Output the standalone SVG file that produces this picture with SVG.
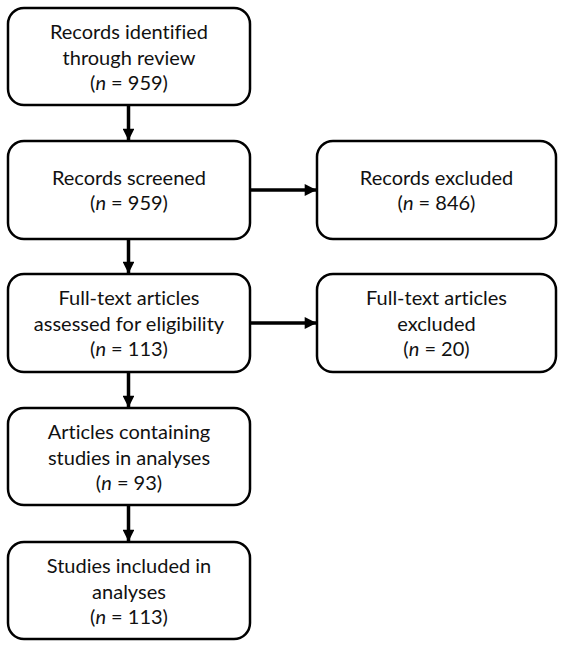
<svg xmlns="http://www.w3.org/2000/svg" width="566" height="647" viewBox="0 0 566 647">
<style>
.box{fill:#fff;stroke:#000;stroke-width:2.5}
.t{font-family:Lato,"Liberation Sans",sans-serif;font-size:20px;fill:#111;text-anchor:middle;font-variant-ligatures:none;font-feature-settings:"liga" 0}
.c{stroke:#000;stroke-width:3.5;fill:none}
</style>
<defs>
<marker id="ah" viewBox="0 0 10 10" refX="9.5" refY="5" markerWidth="3.6" markerHeight="3.4" orient="auto" markerUnits="strokeWidth">
<path d="M0,0 L10,5 L0,10 Z" fill="#000"/>
</marker>
</defs>
<rect width="566" height="647" fill="#fff"/>
<g id="connectors">
<line class="c" x1="128.5" y1="106" x2="128.5" y2="140" marker-end="url(#ah)"/>
<line class="c" x1="128.5" y1="240" x2="128.5" y2="273" marker-end="url(#ah)"/>
<line class="c" x1="128.5" y1="373" x2="128.5" y2="407" marker-end="url(#ah)"/>
<line class="c" x1="128.5" y1="506" x2="128.5" y2="541" marker-end="url(#ah)"/>
<line class="c" x1="251" y1="190" x2="316" y2="190" marker-end="url(#ah)"/>
<line class="c" x1="251" y1="323" x2="316" y2="323" marker-end="url(#ah)"/>
</g>
<g id="n1">
<rect class="box" x="8" y="8" width="242" height="97" rx="16"/>
<text class="t" x="129" y="39">Records identified</text>
<text class="t" x="129" y="65">through review</text>
<text class="t" x="129" y="90">(<tspan font-style="italic">n</tspan> = 959)</text>
</g>
<g id="n2">
<rect class="box" x="8" y="141" width="242" height="98" rx="16"/>
<text class="t" x="129" y="185">Records screened</text>
<text class="t" x="129" y="210">(<tspan font-style="italic">n</tspan> = 959)</text>
</g>
<g id="n3">
<rect class="box" x="317" y="141" width="239" height="98" rx="16"/>
<text class="t" x="436.5" y="185">Records excluded</text>
<text class="t" x="436.5" y="210">(<tspan font-style="italic">n</tspan> = 846)</text>
</g>
<g id="n4">
<rect class="box" x="8" y="274" width="242" height="98" rx="16"/>
<text class="t" x="129" y="305">Full-text articles</text>
<text class="t" x="129" y="331">assessed for eligibility</text>
<text class="t" x="129" y="356">(<tspan font-style="italic">n</tspan> = 113)</text>
</g>
<g id="n5">
<rect class="box" x="317" y="274" width="239" height="98" rx="16"/>
<text class="t" x="436.5" y="305">Full-text articles</text>
<text class="t" x="436.5" y="331">excluded</text>
<text class="t" x="436.5" y="356">(<tspan font-style="italic">n</tspan> = 20)</text>
</g>
<g id="n6">
<rect class="box" x="8" y="408" width="242" height="97" rx="16"/>
<text class="t" x="129" y="439">Articles containing</text>
<text class="t" x="129" y="465">studies in analyses</text>
<text class="t" x="129" y="490">(<tspan font-style="italic">n</tspan> = 93)</text>
</g>
<g id="n7">
<rect class="box" x="8" y="542" width="242" height="97" rx="16"/>
<text class="t" x="129" y="573">Studies included in</text>
<text class="t" x="129" y="599">analyses</text>
<text class="t" x="129" y="624">(<tspan font-style="italic">n</tspan> = 113)</text>
</g>
</svg>
